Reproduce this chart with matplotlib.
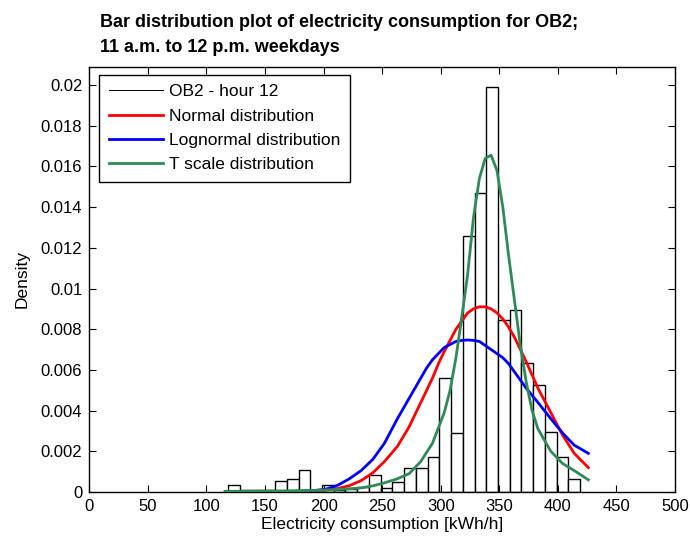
import numpy as np
import matplotlib
matplotlib.use("Agg")
import matplotlib.pyplot as plt
from matplotlib.lines import Line2D

plt.rcParams['font.family'] = ['Liberation Sans', 'DejaVu Sans']

# histogram (30 bins)
bin_edges = np.linspace(118.5, 419.0, 31)
density = [0.00034, 0.00011, 0.00011, 0.00011, 0.00053, 0.00066, 0.00107, 0.0,
           0.00033, 0.0001, 0.00015, 0.00025, 0.00083, 0.0002, 0.0005, 0.00117,
           0.00117, 0.00174, 0.0056, 0.0029, 0.0126, 0.0147, 0.0199, 0.00844,
           0.00893, 0.00634, 0.00527, 0.00294, 0.00174, 0.00063]

# fitted curves
fit_x = [116, 132, 152, 172, 192, 202, 212, 222, 232, 242, 252, 263, 273, 283,
         288, 293, 298, 303, 313, 318, 323, 328, 333, 338, 343, 348, 353, 358,
         363, 368, 373, 383, 394, 404, 414, 426]
normal_y = [0, 0, 0, 0.00001, 0.00004, 0.00009, 0.00017, 0.00031, 0.00056,
            0.00094, 0.0015, 0.00224, 0.0032, 0.0044, 0.005, 0.0056, 0.0063,
            0.0069, 0.008, 0.0084, 0.0088, 0.009, 0.0091, 0.0091, 0.0090,
            0.0088, 0.0085, 0.0081, 0.0076, 0.0070, 0.0064, 0.0051, 0.0039,
            0.0028, 0.0019, 0.0012]
lognormal_y = [0, 0, 0.00001, 0.00002, 0.00007, 0.00014, 0.00033, 0.00065,
               0.00105, 0.0016, 0.0024, 0.0036, 0.0046, 0.0056, 0.0061, 0.0065,
               0.0068, 0.0071, 0.0074, 0.00745, 0.00747, 0.00745, 0.0074,
               0.0072, 0.0070, 0.0068, 0.0066, 0.0063, 0.0059, 0.0055, 0.0051,
               0.0044, 0.0036, 0.0029, 0.0023, 0.0019]

t_x = [116, 132, 152, 172, 192, 202, 212, 222, 232, 242, 252, 263, 273, 283,
       293, 303, 308, 313, 318, 323, 328, 333, 338, 343, 348, 353, 358, 363,
       368, 373, 378, 383, 394, 404, 414, 426]
t_y = [0.00003, 0.00004, 0.00005, 0.00006, 0.00008, 0.0001, 0.00012, 0.00016,
       0.0002, 0.0003, 0.00045, 0.00065, 0.0009, 0.0015, 0.0024, 0.0039, 0.005,
       0.0066, 0.0086, 0.0107, 0.0135, 0.0154, 0.0164, 0.01655, 0.0158, 0.014,
       0.0116, 0.0094, 0.0072, 0.0054, 0.004, 0.0031, 0.002, 0.0014, 0.00105,
       0.0006]

fig = plt.figure(figsize=(6.9, 5.4), dpi=100)
ax = fig.add_axes([89.3/690, 1 - 492/540, 585.7/690, 425.3/540])

ax.bar(bin_edges[:-1], density, width=np.diff(bin_edges), align='edge',
       facecolor='white', edgecolor='black', linewidth=1.0, zorder=1)
ax.plot(fit_x, normal_y, color='#ff0000', linewidth=2.0, zorder=3)
ax.plot(fit_x, lognormal_y, color='#0000ff', linewidth=2.0, zorder=3)
ax.plot(t_x, t_y, color='#2e8b57', linewidth=2.0, zorder=4)

ax.set_xlim(0, 500)
ax.set_ylim(0, 0.0209)
ax.set_xticks(np.arange(0, 501, 50))
yt = np.arange(0, 0.0201, 0.002)
ax.set_yticks(yt)
ax.set_yticklabels([f"{v:g}" for v in yt])
ax.tick_params(direction='in', top=True, right=True, length=5, labelsize=12,
               pad=5)
for s in ax.spines.values():
    s.set_linewidth(1.0)

ax.set_xlabel("Electricity consumption [kWh/h]", fontsize=12.5, labelpad=2)
ax.set_ylabel("Density", fontsize=12.5, labelpad=8)

handles = [Line2D([], [], color='black', linewidth=0.7),
           Line2D([], [], color='#ff0000', linewidth=2.0),
           Line2D([], [], color='#0000ff', linewidth=2.0),
           Line2D([], [], color='#2e8b57', linewidth=2.0)]
labels = ["OB2 - hour 12", "Normal distribution", "Lognormal distribution",
          "T scale distribution"]
leg = ax.legend(handles, labels, loc='upper left', bbox_to_anchor=(0.017, 0.981),
                borderaxespad=0, fontsize=12.5, handlelength=3.1,
                handletextpad=0.35, labelspacing=0.52, borderpad=0.55,
                fancybox=False, framealpha=1, edgecolor='black')
leg.get_frame().set_linewidth(1.0)

fig.text(100/690, 1 - 14/540,
         "Bar distribution plot of electricity consumption for OB2;\n11 a.m. to 12 p.m. weekdays",
         ha='left', va='top', fontsize=13, fontweight='bold', linespacing=1.6)

fig.savefig("out.png", dpi=100)
